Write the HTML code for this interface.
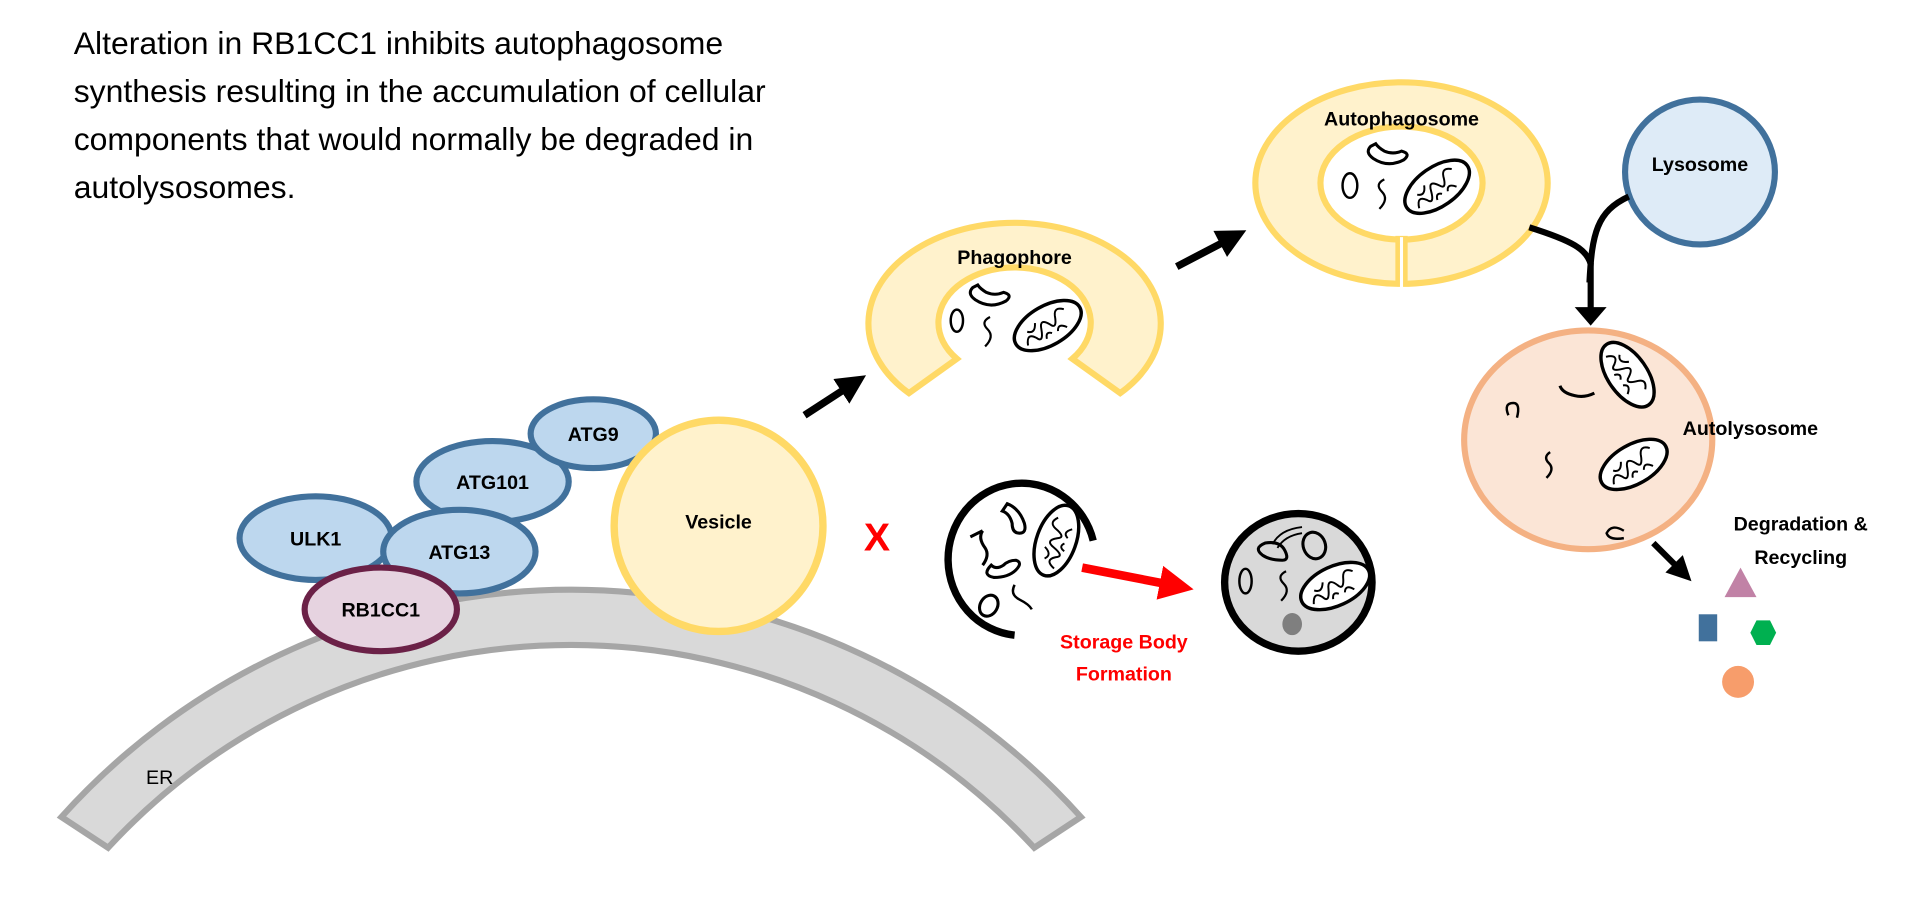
<!DOCTYPE html>
<html><head><meta charset="utf-8"><style>
html,body{margin:0;padding:0;background:#fff;}
svg{display:block;}
text{font-family:"Liberation Sans",Arial,sans-serif;}
.lb{font-weight:bold;font-size:16px;text-anchor:middle;fill:#000;}
</style></head><body>
<svg width="1926" height="903" viewBox="0 0 1568 735" preserveAspectRatio="none" xmlns="http://www.w3.org/2000/svg">
<defs>
<g id="mito">
<ellipse cx="0" cy="0" rx="30" ry="16" fill="#fff" stroke="#000" stroke-width="2.8"/>
<path d="M-22,6 q4,-10 9,-2 q3,7 7,-4 q3,-9 8,0 q3,7 7,-4 q3,-7 9,-1 M-17,-4 q5,5 9,-3 M5,8 q3,-6 8,1 M-6,9 q2,-6 6,-2" fill="none" stroke="#000" stroke-width="1.6"/>
</g>
<g id="bean">
<path d="M-16,-9 q-5,5 2,10 q12,8 25,1 q6,-5 -2,-7 q-7,3 -14,0 q-5,-3 -7,-6 z" fill="#fff" stroke="#000" stroke-width="2.5"/>
</g>
<marker id="ah" viewBox="0 0 10 10" refX="5" refY="5" markerWidth="4" markerHeight="4" orient="auto"><path d="M0,0 L10,5 L0,10 z" fill="#000"/></marker>
<marker id="ahr" viewBox="0 0 10 10" refX="5" refY="5" markerWidth="4" markerHeight="4" orient="auto"><path d="M0,0 L10,5 L0,10 z" fill="#f00"/></marker>
</defs>

<text x="60" y="44" font-size="26" fill="#000">Alteration in RB1CC1 inhibits autophagosome</text>
<text x="60" y="83" font-size="26" fill="#000">synthesis resulting in the accumulation of cellular</text>
<text x="60" y="122" font-size="26" fill="#000">components that would normally be degraded in</text>
<text x="60" y="161" font-size="26" fill="#000">autolysosomes.</text>

<path d="M50,665 A558,558 0 0 1 880,665 L842,690 A513,513 0 0 0 88,690 Z" fill="#d9d9d9" stroke="#a6a6a6" stroke-width="5" stroke-linejoin="miter"/>
<text x="130" y="638" font-size="16" fill="#000" text-anchor="middle">ER</text>

<ellipse cx="257" cy="438" rx="62" ry="34" fill="#bdd7ee" stroke="#41719c" stroke-width="5"/>
<ellipse cx="401" cy="392" rx="62" ry="33" fill="#bdd7ee" stroke="#41719c" stroke-width="5"/>
<ellipse cx="483" cy="353" rx="51" ry="28" fill="#bdd7ee" stroke="#41719c" stroke-width="5"/>
<ellipse cx="374" cy="449" rx="62" ry="34" fill="#bdd7ee" stroke="#41719c" stroke-width="5"/>
<ellipse cx="310" cy="496" rx="62" ry="34" fill="#e6d3e0" stroke="#6b2147" stroke-width="5"/>
<text class="lb" x="257" y="444">ULK1</text>
<text class="lb" x="401" y="398">ATG101</text>
<text class="lb" x="483" y="359">ATG9</text>
<text class="lb" x="374" y="455">ATG13</text>
<text class="lb" x="310" y="502">RB1CC1</text>

<ellipse cx="585" cy="428" rx="85" ry="86" fill="#fff2cc" stroke="#ffd966" stroke-width="6"/>
<text class="lb" x="585" y="430">Vesicle</text>

<text x="714" y="448" font-size="32" font-weight="bold" fill="#f00" text-anchor="middle">X</text>

<line x1="655" y1="338" x2="695" y2="312" stroke="#000" stroke-width="6" marker-end="url(#ah)"/>
<line x1="958" y1="217" x2="1004" y2="193" stroke="#000" stroke-width="6" marker-end="url(#ah)"/>

<path d="M740,320 A119,82 0 1 1 912,320 L873,292 A62,45 0 1 0 779,292 Z" fill="#fff2cc" stroke="#ffd966" stroke-width="5" stroke-linejoin="miter"/>
<text class="lb" x="826" y="215">Phagophore</text>
<ellipse cx="779" cy="261" rx="5" ry="9" fill="none" stroke="#000" stroke-width="2"/>
<path d="M806,258 q-8,4 -2,10 q6,6 -2,14" fill="none" stroke="#000" stroke-width="1.8"/>
<use href="#bean" transform="translate(808,243)"/>
<use href="#mito" transform="translate(853,265) rotate(-30)"/>

<path d="M1022,149 a119,82 0 1 0 238,0 a119,82 0 1 0 -238,0 Z M1075,149 a66,46 0 1 0 132,0 a66,46 0 1 0 -132,0 Z" fill="#fff2cc" stroke="#ffd966" stroke-width="5" fill-rule="evenodd"/>
<line x1="1141" y1="192" x2="1141" y2="233" stroke="#ffd966" stroke-width="10"/>
<line x1="1141" y1="193" x2="1141" y2="236" stroke="#fff" stroke-width="2.5"/>
<text class="lb" x="1141" y="102">Autophagosome</text>
<ellipse cx="1099" cy="151" rx="6" ry="10" fill="none" stroke="#000" stroke-width="2"/>
<path d="M1127,146 q-8,4 -2,10 q6,6 -2,14" fill="none" stroke="#000" stroke-width="1.8"/>
<use href="#bean" transform="translate(1132,128)"/>
<use href="#mito" transform="translate(1170,152) rotate(-35)"/>

<ellipse cx="1384" cy="140" rx="61" ry="59" fill="#deebf7" stroke="#41719c" stroke-width="5"/>
<text class="lb" x="1384" y="139">Lysosome</text>

<path d="M1245,185 C1280,196 1292,203 1295,215" fill="none" stroke="#000" stroke-width="5"/>
<path d="M1326,160 C1300,172 1296,190 1294,230" fill="none" stroke="#000" stroke-width="5"/>
<line x1="1295" y1="214" x2="1295" y2="252" stroke="#000" stroke-width="5"/>
<polygon points="1282,250 1308,250 1295,265" fill="#000"/>

<ellipse cx="1293" cy="358" rx="101" ry="89" fill="#fbe5d6" stroke="#f4b183" stroke-width="5"/>
<path d="M1228,338 q-4,-10 4,-10 q6,0 3,12" fill="none" stroke="#000" stroke-width="2"/>
<path d="M1262,368 q-6,4 -1,9 q5,5 -2,12" fill="none" stroke="#000" stroke-width="2"/>
<path d="M1270,314 q2,6 12,8 q8,2 16,-2" fill="none" stroke="#000" stroke-width="2.5"/>
<path d="M1322,432 q-10,-6 -14,2 q2,6 14,4" fill="none" stroke="#000" stroke-width="2"/>
<use href="#mito" transform="translate(1325,305) rotate(55)"/>
<use href="#mito" transform="translate(1330,378) rotate(-30)"/>
<text class="lb" x="1425" y="354">Autolysosome</text>

<line x1="1346" y1="442" x2="1370" y2="466" stroke="#000" stroke-width="5" marker-end="url(#ah)"/>
<text class="lb" x="1466" y="432">Degradation &amp;</text>
<text class="lb" x="1466" y="459">Recycling</text>
<polygon points="1417,462 1430,486 1404,486" fill="#c182a6"/>
<rect x="1383" y="500" width="15" height="22" fill="#41719c"/>
<polygon points="1425,515 1430,505 1441,505 1446,515 1441,525 1430,525" fill="#00b050"/>
<ellipse cx="1415" cy="555" rx="13" ry="13" fill="#f79d6b"/>

<path d="M890,440 A60,62 0 1 0 826,517" fill="none" stroke="#000" stroke-width="6"/>
<path d="M807,460 q-8,8 2,10 q12,0 18,-6 q6,-6 0,-8 q-6,0 -10,4 q-6,4 -10,0 z" fill="#fff" stroke="#000" stroke-width="2.5"/>
<path d="M800,432 q-4,6 2,14 q4,6 -2,14 M800,432 l-10,5" fill="none" stroke="#000" stroke-width="2.5"/>
<path d="M820,410 q10,4 14,16 q2,8 -4,8 q-6,0 -6,-8 q-2,-8 -8,-10 z" fill="#fff" stroke="#000" stroke-width="2.5"/>
<ellipse cx="805" cy="493" rx="7" ry="9" fill="none" stroke="#000" stroke-width="2.5" transform="rotate(30 805 493)"/>
<path d="M826,476 q-4,8 4,12 q8,4 10,8" fill="none" stroke="#000" stroke-width="2"/>
<use href="#mito" transform="translate(860,440) rotate(-70)"/>

<line x1="881" y1="462" x2="958" y2="477" stroke="#f00" stroke-width="7" marker-end="url(#ahr)"/>
<text x="915" y="528" font-size="16" font-weight="bold" fill="#f00" text-anchor="middle">Storage Body</text>
<text x="915" y="554" font-size="16" font-weight="bold" fill="#f00" text-anchor="middle">Formation</text>

<ellipse cx="1057" cy="474" rx="60" ry="56" fill="#d9d9d9" stroke="#000" stroke-width="6"/>
<ellipse cx="1052" cy="508" rx="8" ry="9" fill="#7f7f7f"/>
<ellipse cx="1014" cy="473" rx="5" ry="10" fill="none" stroke="#000" stroke-width="2"/>
<path d="M1047,465 q-8,4 -2,10 q6,6 -2,14" fill="none" stroke="#000" stroke-width="1.8"/>
<path d="M1028,452 q-8,-6 2,-10 q12,-2 16,6 q4,8 -2,8 q-10,0 -16,-4 z" fill="#d9d9d9" stroke="#000" stroke-width="2.5"/>
<path d="M1036,443 q6,-12 24,-14 M1040,446 q6,-10 20,-12" fill="none" stroke="#000" stroke-width="1.5"/>
<ellipse cx="1070" cy="444" rx="9" ry="11" fill="none" stroke="#000" stroke-width="2.5" transform="rotate(-20 1070 444)"/>
<use href="#mito" transform="translate(1087,477) rotate(-25)"/>
</svg>
</body></html>
